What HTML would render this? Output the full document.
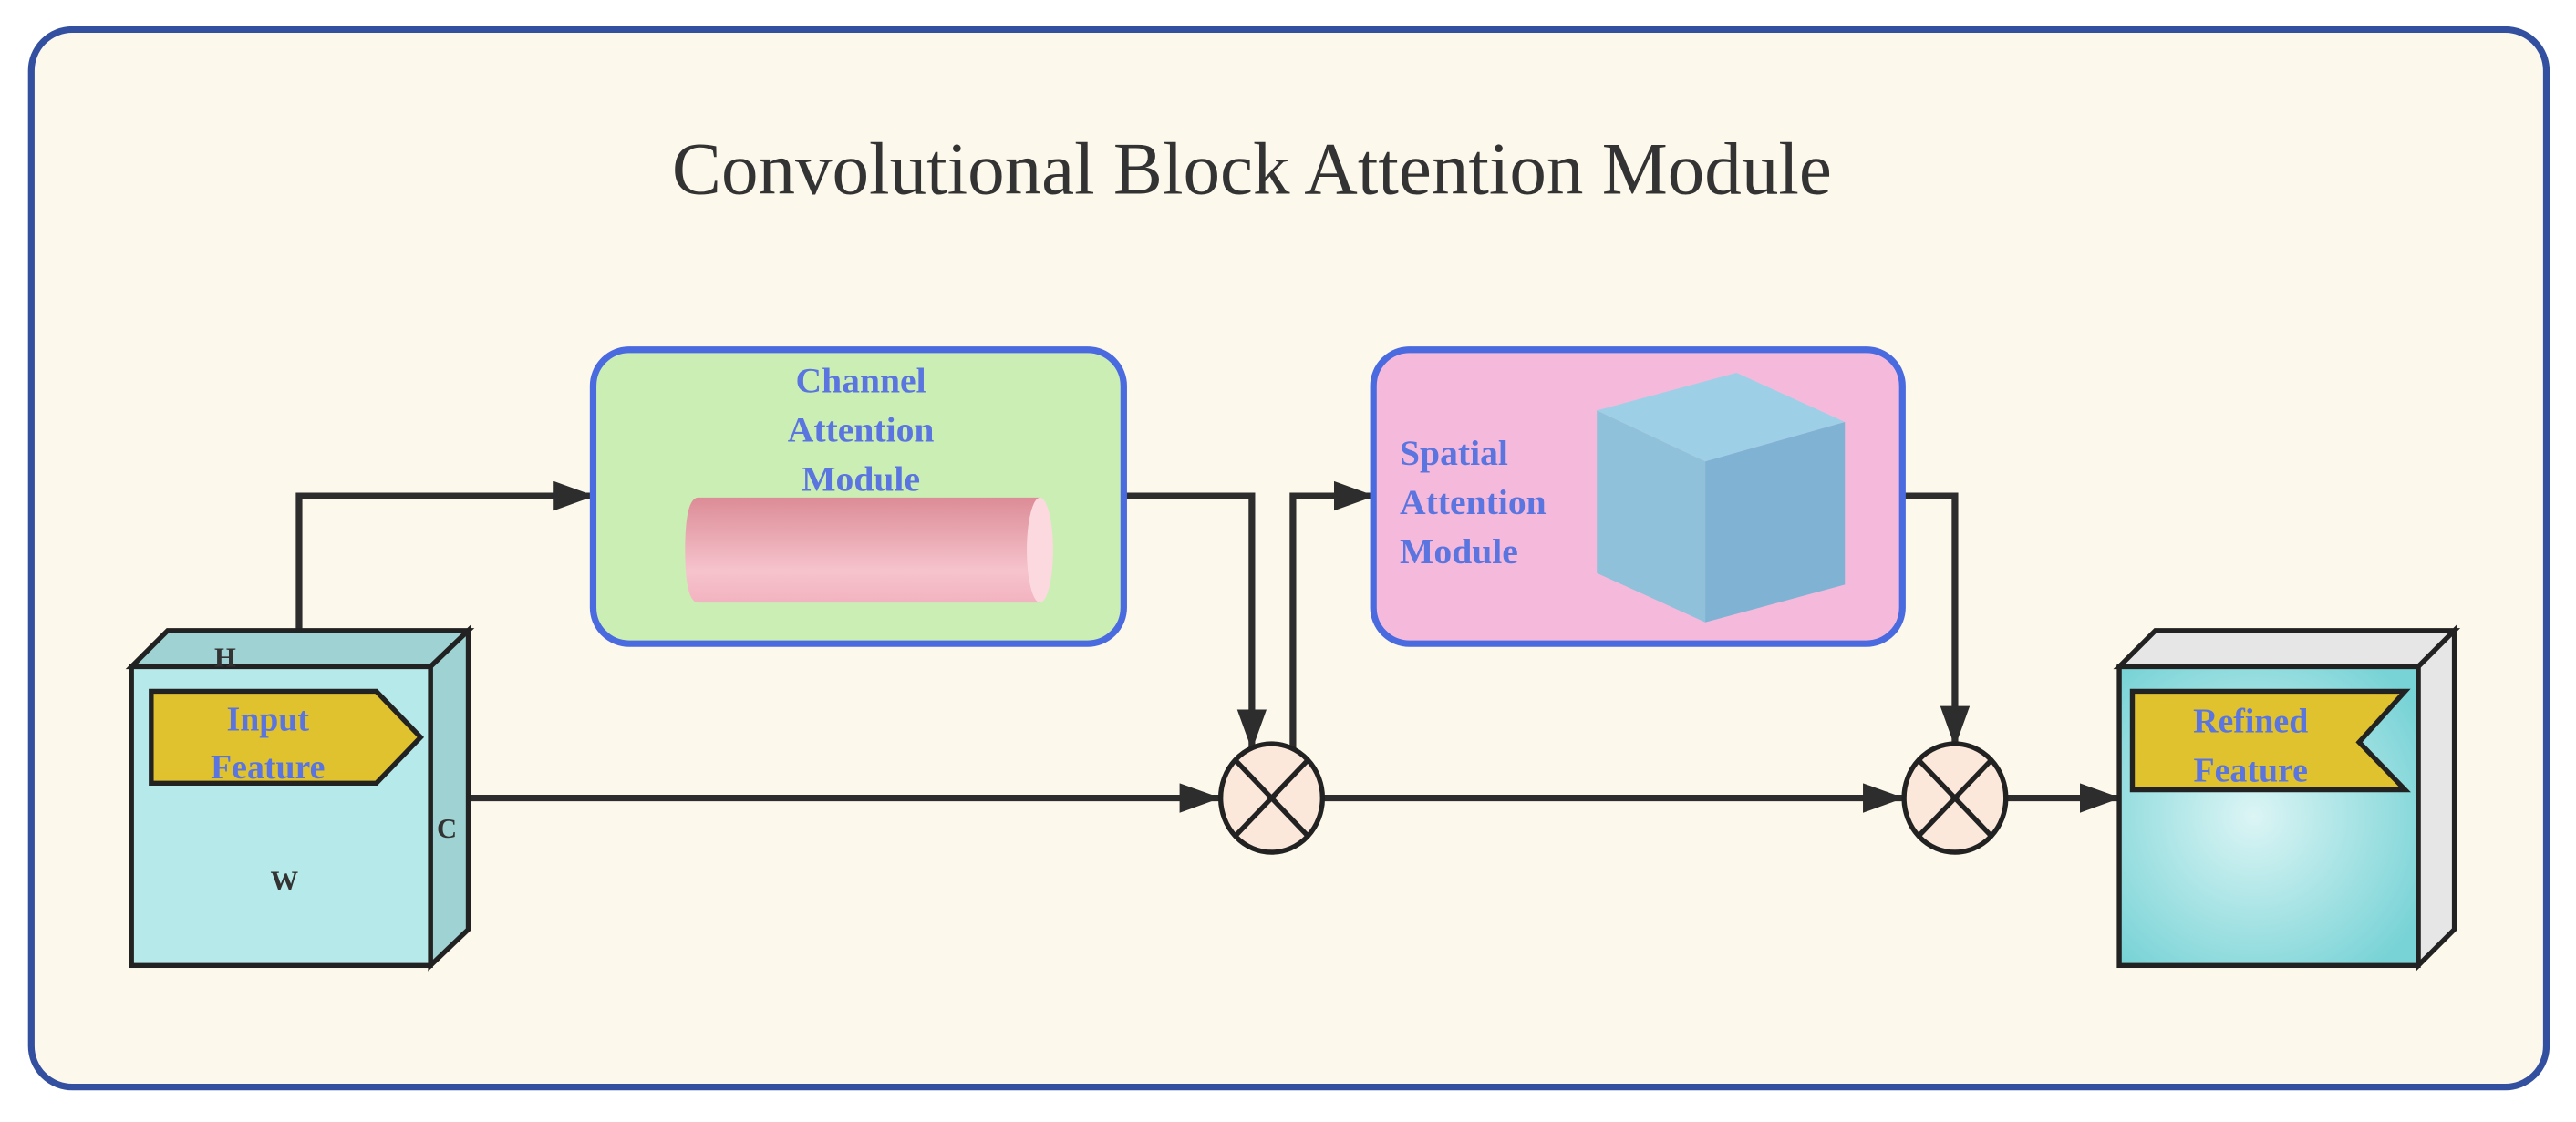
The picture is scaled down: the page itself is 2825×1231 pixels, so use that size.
<!DOCTYPE html>
<html><head><meta charset="utf-8"><style>
html,body{margin:0;padding:0;background:#fff;}
svg{display:block;}
</style></head><body>
<svg width="2825" height="1231" viewBox="0 0 1568 683.3" xmlns="http://www.w3.org/2000/svg">
<defs>
<marker id="ah" markerWidth="26" markerHeight="20" refX="24" refY="9" orient="auto" markerUnits="userSpaceOnUse">
<path d="M0,0 L25,9 L0,18 Z" fill="#2d2d2d"/>
</marker>
<linearGradient id="cyl" x1="0" y1="0" x2="0" y2="1">
<stop offset="0" stop-color="#dc8c96"/><stop offset="0.7" stop-color="#f6c3cd"/><stop offset="1" stop-color="#f2b3c0"/>
</linearGradient>
<radialGradient id="rf" cx="0.45" cy="0.5" r="0.65">
<stop offset="0" stop-color="#dcf5f5"/><stop offset="1" stop-color="#78d3d6"/>
</radialGradient>
</defs>
<rect x="0" y="0" width="1568" height="683.3" fill="#fff"/>
<rect x="19" y="18" width="1531" height="644" rx="25" fill="#fcf8eb" stroke="#3350a0" stroke-width="4"/>
<text x="762" y="118" text-anchor="middle" font-family="Liberation Serif, serif" font-size="45" fill="#333">Convolutional Block Attention Module</text>

<g stroke="#2d2d2d" stroke-width="4" fill="none">
<polyline points="182,384 182,302 361,302" marker-end="url(#ah)"/>
<line x1="285" y1="486" x2="742" y2="486" marker-end="url(#ah)"/>
<polyline points="684,302 762,302 762,456" marker-end="url(#ah)"/>
<polyline points="787,456 787,302 836,302" marker-end="url(#ah)"/>
<line x1="806" y1="486" x2="1158" y2="486" marker-end="url(#ah)"/>
<polyline points="1158,302 1190,302 1190,454" marker-end="url(#ah)"/>
<line x1="1222" y1="486" x2="1290" y2="486" marker-end="url(#ah)"/>
</g>

<rect x="361" y="213" width="323" height="179" rx="22" fill="#cbeeb4" stroke="#4a6ae0" stroke-width="4"/>
<g font-family="Liberation Serif, serif" font-weight="bold" font-size="22" fill="#5a75e0" text-anchor="middle">
<text x="524" y="239">Channel</text><text x="524" y="269">Attention</text><text x="524" y="299">Module</text>
</g>
<path d="M425,303 L633,303 L633,367 L425,367 Q417,367 417,335 Q417,303 425,303 Z" fill="url(#cyl)"/>
<ellipse cx="633" cy="335" rx="8" ry="32" fill="#fbd9df"/>

<rect x="836" y="213" width="322" height="179" rx="22" fill="#f5badb" stroke="#4a6ae0" stroke-width="4"/>
<g font-family="Liberation Serif, serif" font-weight="bold" font-size="22" fill="#5a75e0">
<text x="852" y="283">Spatial</text><text x="852" y="313">Attention</text><text x="852" y="343">Module</text>
</g>
<polygon points="972,250 1057,227 1123,257 1038,281" fill="#9dd0e6"/>
<polygon points="972,250 1038,281 1038,379 972,349" fill="#8fc1da"/>
<polygon points="1038,281 1123,257 1123,356 1038,379" fill="#80b2d4"/>

<g stroke="#222" stroke-width="3" stroke-linejoin="miter">
<polygon points="80,406 102,384 285,384 262,406" fill="#9fd3d3"/>
<polygon points="262,406 285,384 285,566 262,588" fill="#9fd3d3"/>
<rect x="80" y="406" width="182" height="182" fill="#b6eaea"/>
<polygon points="92,421 229,421 256,449 229,477 92,477" fill="#e0c22e"/>
</g>
<g font-family="Liberation Serif, serif" font-weight="bold" font-size="21" fill="#5a75e0" text-anchor="middle">
<text x="163" y="445">Input</text><text x="163" y="474">Feature</text>
</g>
<g font-family="Liberation Serif, serif" font-weight="bold" font-size="17" fill="#333" text-anchor="middle">
<text x="137" y="406">H</text><text x="272" y="510">C</text><text x="173" y="542">W</text>
</g>

<g stroke="#222" stroke-width="3">
<polygon points="1290,406 1312,384 1494,384 1472,406" fill="#e6e6e6"/>
<polygon points="1472,406 1494,384 1494,566 1472,588" fill="#e6e6e6"/>
<rect x="1290" y="406" width="182" height="182" fill="url(#rf)"/>
<polygon points="1298,421 1464,421 1436,452 1464,481 1298,481" fill="#e0c22e"/>
</g>
<g font-family="Liberation Serif, serif" font-weight="bold" font-size="21" fill="#5a75e0" text-anchor="middle">
<text x="1370" y="446">Refined</text><text x="1370" y="476">Feature</text>
</g>

<g stroke="#222" stroke-width="3">
<ellipse cx="774" cy="486" rx="31" ry="33" fill="#fbe8da"/>
<line x1="752" y1="463" x2="796" y2="509"/><line x1="796" y1="463" x2="752" y2="509"/>
<ellipse cx="1190" cy="486" rx="31" ry="33" fill="#fbe8da"/>
<line x1="1168" y1="463" x2="1212" y2="509"/><line x1="1212" y1="463" x2="1168" y2="509"/>
</g>
</svg>
</body></html>
